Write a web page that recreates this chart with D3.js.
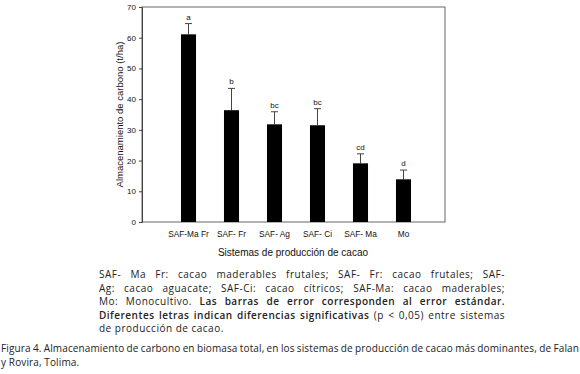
<!DOCTYPE html>
<html>
<head>
<meta charset="utf-8">
<script src="https://cdn.jsdelivr.net/npm/d3@7/dist/d3.min.js"></script>
<style>
  html, body { margin: 0; padding: 0; background: #fff; }
  svg { display: block; }
</style>
</head>
<body>
<div id="chart"></div>
<script>
(function () {
  'use strict';

  // data
  var systems = ['SAF-Ma Fr', 'SAF- Fr', 'SAF- Ag', 'SAF- Ci', 'SAF- Ma', 'Mo'];
  var carbon = [61.1, 36.4, 31.8, 31.5, 19.1, 13.9];
  var stdErr = [3.5, 7.1, 4.1, 5.4, 3.1, 3.0];
  var letters = ['a', 'b', 'bc', 'bc', 'cd', 'd'];
  var yTicks = [0, 10, 20, 30, 40, 50, 60, 70];

  var W = 580, H = 374;
  var plot = { left: 142, right: 445, top: 7, bottom: 222 };

  var svg = d3.select('#chart').append('svg')
    .attr('width', W).attr('height', H);

  var x = d3.scaleBand().domain(systems)
    .range([167, 425]).paddingInner(0.65).paddingOuter(0.325);
  var y = d3.scaleLinear().domain([0, 70]).range([plot.bottom, plot.top]);

  var chartFont = 'Liberation Sans, Arial, sans-serif';

  // frame
  svg.append('rect')
    .attr('x', plot.left).attr('y', plot.top)
    .attr('width', plot.right - plot.left).attr('height', plot.bottom - plot.top)
    .attr('fill', 'none').attr('stroke', '#666').attr('stroke-width', 1);

  // y axis
  var yAxis = svg.append('g')
    .attr('transform', 'translate(' + plot.left + ',0)')
    .call(d3.axisLeft(y).tickValues(yTicks).tickSize(3).tickPadding(3));
  yAxis.select('.domain').attr('stroke', '#444');
  yAxis.selectAll('line').attr('stroke', '#444');
  yAxis.selectAll('text').style('font-family', chartFont).style('font-size', '8px').attr('fill', '#111');

  // x axis labels (no ticks)
  var xAxis = svg.append('g')
    .attr('transform', 'translate(0,' + plot.bottom + ')')
    .call(d3.axisBottom(x).tickSize(0).tickPadding(9));
  xAxis.select('.domain').remove();
  xAxis.selectAll('text').style('font-family', chartFont).style('font-size', '8.3px').attr('fill', '#111');

  // error bars (upper only)
  var eb = svg.append('g').attr('stroke', '#444').attr('stroke-width', 1);
  systems.forEach(function (s, i) {
    var cx = x(s) + x.bandwidth() / 2;
    eb.append('line').attr('x1', cx).attr('x2', cx)
      .attr('y1', y(carbon[i])).attr('y2', y(carbon[i] + stdErr[i]));
    eb.append('line').attr('x1', cx - 3.5).attr('x2', cx + 3.5)
      .attr('y1', y(carbon[i] + stdErr[i])).attr('y2', y(carbon[i] + stdErr[i]));
  });

  // bars
  svg.append('g').selectAll('rect')
    .data(systems).enter().append('rect')
    .attr('x', function (d) { return x(d); })
    .attr('width', x.bandwidth())
    .attr('y', function (d, i) { return y(carbon[i]); })
    .attr('height', function (d, i) { return y(0) - y(carbon[i]); })
    .attr('fill', '#000');

  // significance letters
  svg.append('g').selectAll('text')
    .data(systems).enter().append('text')
    .attr('x', function (d) { return x(d) + x.bandwidth() / 2; })
    .attr('y', function (d, i) { return y(carbon[i] + stdErr[i]) - 4; })
    .attr('text-anchor', 'middle')
    .style('font-family', chartFont).style('font-size', '8px').attr('fill', '#111')
    .text(function (d, i) { return letters[i]; });

  // axis titles
  svg.append('text')
    .attr('x', 293).attr('y', 256)
    .attr('text-anchor', 'middle')
    .style('font-family', chartFont).style('font-size', '10px').attr('fill', '#111')
    .text('Sistemas de producción de cacao');

  svg.append('text')
    .attr('transform', 'translate(123,' + ((plot.top + plot.bottom) / 2) + ') rotate(-90)')
    .attr('text-anchor', 'middle')
    .style('font-family', chartFont).style('font-size', '9.5px').attr('fill', '#111')
    .text('Almacenamiento de carbono (t/ha)');

  // caption text, justified line by line
  var capFont = '"Open Sans", Lato, sans-serif';
  var noteLines = [
    { y: 278, just: true, parts: [['SAF- Ma Fr: cacao maderables frutales; SAF- Fr: cacao frutales; SAF-', false]] },
    { y: 291.5, just: true, parts: [['Ag: cacao aguacate; SAF-Ci: cacao cítricos; SAF-Ma: cacao maderables;', false]] },
    { y: 305, just: true, parts: [['Mo: Monocultivo. ', false], ['Las barras de error corresponden al error estándar.', true]] },
    { y: 318.5, just: true, parts: [['Diferentes letras indican diferencias significativas', true], [' (p < 0,05) entre sistemas', false]] },
    { y: 331.5, just: false, parts: [['de producción de cacao.', false]] }
  ];
  var figLines = [
    { y: 352, just: true, parts: [['Figura 4. Almacenamiento de carbono en biomasa total, en los sistemas de producción de cacao más dominantes, de Falan', false]] },
    { y: 366, just: false, parts: [['y Rovira, Tolima.', false]] }
  ];

  function drawLines(lines, x0, x1, size, ls) {
    lines.forEach(function (ln) {
      var t = svg.append('text')
        .attr('x', x0).attr('y', ln.y)
        .style('font-family', capFont).style('font-size', size + 'px')
        .style('letter-spacing', ls + 'px')
        .attr('fill', '#222')
        .style('white-space', 'pre');
      ln.parts.forEach(function (p) {
        t.append('tspan').text(p[0]).style('font-weight', p[1] ? '600' : 'normal');
      });
      if (ln.just) {
        var full = ln.parts.map(function (p) { return p[0]; }).join('');
        var spaces = (full.match(/ /g) || []).length;
        var len = t.node().getComputedTextLength();
        if (spaces > 0) t.style('word-spacing', ((x1 - x0 - len) / spaces) + 'px');
      }
    });
  }

  drawLines(noteLines, 99, 505, 10, 0.5);
  drawLines(figLines, 1, 579, 10, 0.12);
})();
</script>
</body>
</html>
